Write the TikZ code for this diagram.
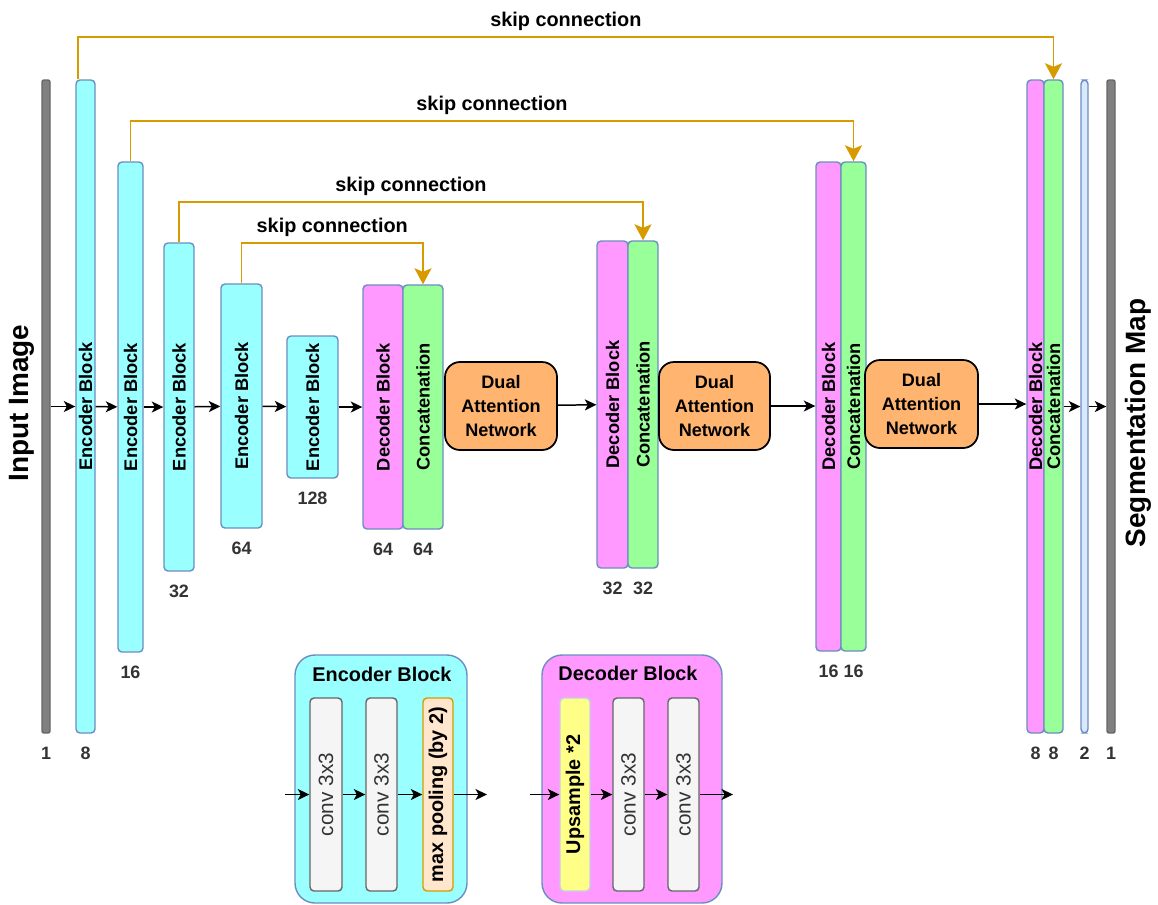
\documentclass[tikz,border=0pt]{standalone}
\usepackage{fontspec}
\setmainfont{Liberation Sans}
\usetikzlibrary{arrows.meta}

\definecolor{encfill}{HTML}{99FFFF}
\definecolor{decfill}{HTML}{FF99FF}
\definecolor{catfill}{HTML}{99FF99}
\definecolor{barline}{HTML}{6C8EBF}
\definecolor{skipline}{HTML}{D79B00}
\definecolor{danfill}{HTML}{FFB570}
\definecolor{mapfill}{HTML}{808080}
\definecolor{mapline}{HTML}{666666}
\definecolor{outfill}{HTML}{DAE8FC}
\definecolor{convfill}{HTML}{F5F5F5}
\definecolor{convtext}{HTML}{333333}
\definecolor{poolfill}{HTML}{FFE6CC}
\definecolor{upfill}{HTML}{FFFF88}
\definecolor{upline}{HTML}{C3CDE6}

\begin{document}
\begin{tikzpicture}
    [x=0.2mm,y=-0.2mm,
    sz/.style 2 args={minimum width=#1*0.2mm,minimum height=#2*0.2mm},
    bar/.style={rectangle,rounded corners=0.8mm,draw=barline,line width=0.8pt,inner sep=0pt},
    enc/.style={bar,fill=encfill},
    dec/.style={bar,fill=decfill},
    cat/.style={bar,fill=catfill},
    map/.style={rectangle,rounded corners=0.4mm,draw=mapline,fill=mapfill,line width=0.8pt,inner sep=0pt},
    dan/.style={rectangle,rounded corners=3mm,draw=black,fill=danfill,line width=1pt,align=center,
        font=\fontsize{10.3}{13.6}\selectfont\bfseries},
    legbox/.style={rectangle,rounded corners=4mm,draw=barline,line width=0.8pt,inner sep=0pt},
    conv/.style={rectangle,rounded corners=0.8mm,draw=mapline,fill=convfill,line width=0.8pt,inner sep=0pt},
    btext/.style={rotate=90,font=\fontsize{10.4}{12}\selectfont\bfseries},
    ctext/.style={rotate=90,text=convtext,font=\fontsize{11.8}{13}\selectfont},
    ltext/.style={rotate=90,font=\fontsize{11.3}{13}\selectfont\bfseries},
    dim/.style={text=convtext,font=\fontsize{10.2}{12}\selectfont\bfseries,label distance=1.4mm},
    title/.style={font=\fontsize{11.3}{13}\selectfont\bfseries},
    big/.style={rotate=90,font=\fontsize{15.9}{18}\selectfont\bfseries},
    skip/.style={-{Stealth[length=3.2mm,width=3.4mm,inset=0.7mm]},draw=skipline,line width=1.1pt},
    flow/.style={-{Stealth[length=2.3mm,width=2.2mm,inset=0.6mm]},line width=0.85pt}]

    \useasboundingbox (0,0) rectangle (1158,904);
    %\draw[help lines,step=2cm] (0,0) grid (1158,904);

    % encoder side
    \node[map,sz={8}{653},label={[dim]below:1}] (inp) at (46,406.5) {};
    \node[big] (inptext) at (22,403) {Input Image};
    \node[enc,sz={19}{653},label={[btext]center:Encoder Block},label={[dim]below:8}] (e1) at (85.5,406.5) {};
    \node[enc,sz={25}{490},label={[btext]center:Encoder Block},label={[dim]below:16}] (e2) at (130.5,407) {};
    \node[enc,sz={30}{328},label={[btext]center:Encoder Block},label={[dim]below:32}] (e3) at (179,407) {};
    \node[enc,sz={41}{244},label={[btext]center:Encoder Block},label={[dim]below:64}] (e4) at (241.5,406) {};
    \node[enc,sz={51}{142},label={[btext]center:Encoder Block},label={[dim]below:128}] (e5) at (312.5,407) {};

    % decoder side
    \node[dec,sz={40}{244},label={[btext]center:Decoder Block},label={[dim]below:64}] (d1) at (383,407) {};
    \node[cat,sz={40}{244},label={[btext]center:Concatenation},label={[dim]below:64}] (c1) at (423,407) {};
    \node[dan,sz={112}{88}] (dan1) at (501,406) {Dual\\Attention\\Network};
    \node[dec,sz={31}{327},label={[btext]center:Decoder Block},label={[dim]below:32}] (d2) at (612.5,404.5) {};
    \node[cat,sz={30}{327},label={[btext]center:Concatenation},label={[dim]below:32}] (c2) at (643,404.5) {};
    \node[dan,sz={111}{88}] (dan2) at (714.5,406) {Dual\\Attention\\Network};
    \node[dec,sz={25}{489},label={[btext]center:Decoder Block},label={[dim]below:16}] (d3) at (828.5,406.5) {};
    \node[cat,sz={25}{489},label={[btext]center:Concatenation},label={[dim]below:16}] (c3) at (853.5,406.5) {};
    \node[dan,sz={113}{88}] (dan3) at (921.5,404) {Dual\\Attention\\Network};
    \node[dec,sz={17}{653},label={[btext]center:Decoder Block},label={[dim]below:8}] (d4) at (1035.5,406.5) {};
    \node[cat,sz={19}{653},label={[btext]center:Concatenation},label={[dim]below:8}] (c4) at (1053.5,406.5) {};
    \node[bar,fill=outfill,sz={7}{653},label={[dim]below:2}] (thin) at (1084.5,406.5) {};
    \node[map,sz={8}{653},label={[dim]below:1}] (out) at (1111,406.5) {};
    \node[big] (outtext) at (1138,423) {Segmentation Map};

    \draw[flow] (inp) -- (e1);
    \draw[flow] (e1) -- (e2);
    \draw[flow] (e2) -- (e3);
    \draw[flow] (e3) -- (e4);
    \draw[flow] (e4) -- (e5);
    \draw[flow] (e5) -- (d1);
    \draw[flow] (dan1) -- (d2);
    \draw[flow] (dan2.east) -- (dan2.east -| d3.west);
    \draw[flow] (dan3.east) -- (dan3.east -| d4.west);
    \draw[flow] (c4) -- (thin);
    \draw[flow] (thin) -- (out);

    % skip connections
    \draw[skip] ([xshift=0.6mm]e1.north west) -- ++(0,-42)
          -| node[pos=0.25,above,title]{skip connection} (c4.north);
    \draw[skip] (e2.north) -- ++(0,-40)
          -| node[pos=0.25,above,title]{skip connection} (c3.north);
    \draw[skip] (e3.north) -- ++(0,-40)
          -| node[pos=0.25,above,title]{skip connection} (c2.north);
    \draw[skip] (e4.north) -- ++(0,-40)
          -| node[pos=0.25,above,title]{skip connection} (c1.north);

    % legend
    \node[legbox,fill=encfill,sz={172}{248}] (encbox) at (381,779) {};
    \node[title] (enctitle) at (382,674) {Encoder Block};
    \node[conv,sz={32}{193},label={[ctext]center:conv 3x3}] (cv1) at (326,794.5) {};
    \node[conv,sz={31}{193},label={[ctext]center:conv 3x3}] (cv2) at (381.5,794.5) {};
    \node[conv,draw=skipline,fill=poolfill,sz={30}{193},label={[ltext]center:max pooling (by 2)}] (pool) at (438,794.5) {};
    \coordinate (encin) at (285,794.5);
    \coordinate (encout) at (487,794.5);
    \draw[flow] (encin) -- (cv1);
    \draw[flow] (cv1) -- (cv2);
    \draw[flow] (cv2) -- (pool);
    \draw[flow] (pool) -- (encout);

    \node[legbox,fill=decfill,sz={180}{248}] (decbox) at (632,779) {};
    \node[title] (dectitle) at (628,673) {Decoder Block};
    \node[conv,draw=upline,fill=upfill,sz={30}{193},label={[ltext]center:Upsample *2}] (up) at (575,794.5) {};
    \node[conv,sz={31}{193},label={[ctext]center:conv 3x3}] (cv3) at (628.5,794.5) {};
    \node[conv,sz={31}{193},label={[ctext]center:conv 3x3}] (cv4) at (683.5,794.5) {};
    \coordinate (decin) at (530,794.5);
    \coordinate (decout) at (733,794.5);
    \draw[flow] (decin) -- (up);
    \draw[flow] (up) -- (cv3);
    \draw[flow] (cv3) -- (cv4);
    \draw[flow] (cv4) -- (decout);
\end{tikzpicture}
\end{document}
